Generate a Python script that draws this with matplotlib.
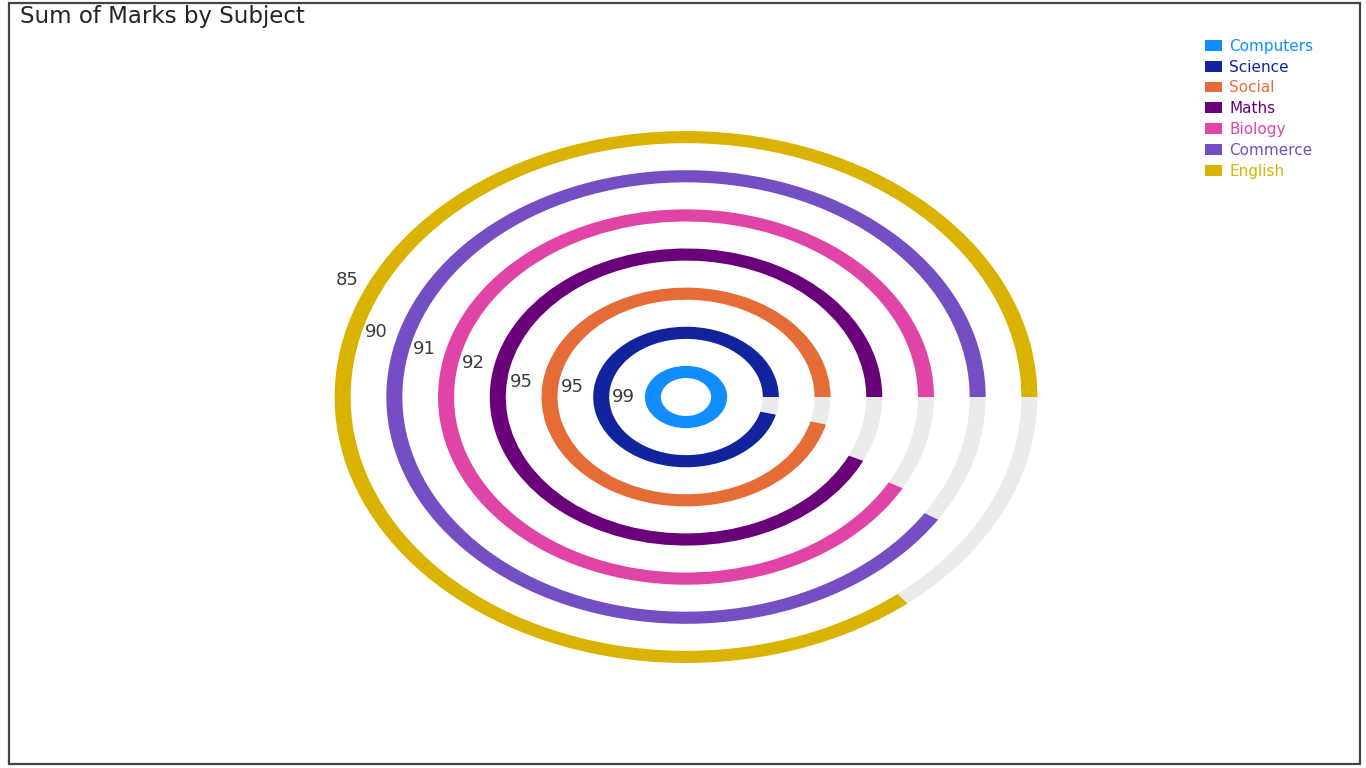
#Sum of Marks by Subject - radial bar chart
import matplotlib.pyplot as plt
import numpy as np
from matplotlib.patches import Rectangle

#data, inner ring first
subjects = ["Computers", "Science", "Social", "Maths", "Biology", "Commerce", "English"]
marks = [99, 95, 95, 92, 91, 90, 85]
colors = ["#118DFF", "#12239E", "#E66C37", "#6B007B", "#E044A7", "#744EC2", "#D9B300"]
#angle (degrees) where each value label sits
label_angles = [180, 173.5, 173, 168, 166.4, 164.5, 155.4]

track_color = "#EBEBEB"
ring_width = 0.31
max_mark = max(marks)

fig = plt.figure(figsize=(13.66, 7.68), dpi=100)
fig.patch.set_facecolor("white")

#polar axes stretched to an ellipse like the reference
ax = fig.add_axes([0.2372, 0.1263, 0.530, 0.7135], projection="polar")
ax.set_aspect("auto")

for i, (subj, val, col) in enumerate(zip(subjects, marks, colors)):
    r = 0.64 + i
    span = 2 * np.pi * val / max_mark
    #grey background track for the remainder
    if span < 2 * np.pi:
        ax.bar(span, ring_width, width=2 * np.pi - span, bottom=r - ring_width / 2,
               align="edge", color=track_color, edgecolor="none")
    ax.bar(0, ring_width, width=span, bottom=r - ring_width / 2, align="edge",
           color=col, edgecolor="none", label=subj)
    ax.text(np.deg2rad(label_angles[i]), r + 0.57, str(val), ha="center", va="center",
            fontsize=13, color="#3a3a3a", family="DejaVu Sans")

ax.set_ylim(0, 7.0)
ax.set_xticks([])
ax.set_yticks([])
ax.grid(False)
ax.spines["polar"].set_visible(False)
ax.set_facecolor("none")

#title
fig.text(20 / 1366, 1 - 17 / 768, "Sum of Marks by Subject", ha="left", va="center",
         fontsize=16.5, color="#252423", family="DejaVu Sans")

#legend with coloured text
leg = fig.legend(loc="upper left", bbox_to_anchor=(1191 / 1366, 1 - 25 / 768),
                 frameon=False, handlelength=1.1, handleheight=0.7, handletextpad=0.5,
                 labelspacing=0.38, prop={"family": "DejaVu Sans", "size": 11})
for txt, col in zip(leg.get_texts(), colors):
    txt.set_color(col)

#outer frame
fig.add_artist(Rectangle((9 / 1366, 4 / 768), 1351 / 1366, 761 / 768, transform=fig.transFigure,
                         fill=False, edgecolor="#444444", linewidth=1.6))

plt.savefig("out.png", dpi=100)
plt.close()
